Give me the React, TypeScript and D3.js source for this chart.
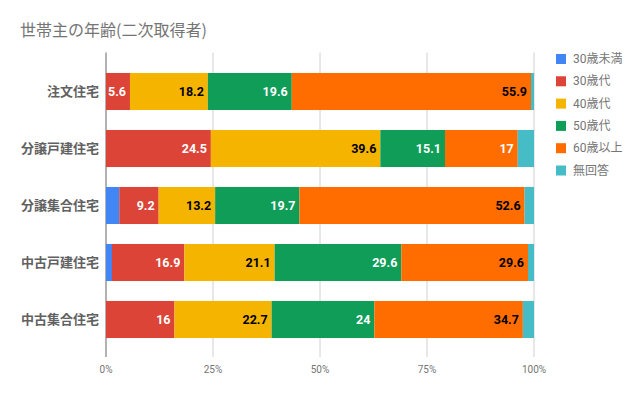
import React from 'react';
import * as d3 from 'd3';

// categories (top to bottom)
const categories = ['注文住宅', '分譲戸建住宅', '分譲集合住宅', '中古戸建住宅', '中古集合住宅'];

// series names in stack order
const seriesNames = ['30歳未満', '30歳代', '40歳代', '50歳代', '60歳以上', '無回答'];

// values per series (%), one per category
const under30 = [0, 0, 3.1, 1.4, 0];
const age30s = [5.6, 24.5, 9.2, 16.9, 16];
const age40s = [18.2, 39.6, 13.2, 21.1, 22.7];
const age50s = [19.6, 15.1, 19.7, 29.6, 24];
const age60plus = [55.9, 17, 52.6, 29.6, 34.7];
const noAnswer = [0.7, 3.8, 2.2, 1.4, 2.6];

// which series get a data label
const labelled = [false, true, true, true, true, false];

const xTicks = [0, 0.25, 0.5, 0.75, 1];

const colors = ['#4285F4', '#DB4437', '#F4B400', '#0F9D58', '#FF6D00', '#46BDC6'];

const W = 640;
const H = 395;

export default function App() {
  const seriesValues = [under30, age30s, age40s, age50s, age60plus, noAnswer];

  const rows = categories.map((cat, i) => {
    const r: Record<string, number | string> = { cat };
    seriesNames.forEach((s, j) => (r[s] = seriesValues[j][i]));
    return r;
  });

  const stack = d3
    .stack<Record<string, number | string>>()
    .keys(seriesNames)
    .value((d, k) => d[k] as number)
    .offset(d3.stackOffsetExpand);
  const stacked = stack(rows);

  const x = d3.scaleLinear().domain([0, 1]).range([106, 534]);
  const y = d3
    .scaleBand<string>()
    .domain(categories)
    .range([63, 348])
    .paddingInner(0.35)
    .paddingOuter(0.175);

  const fmt = d3.format('.0%');

  // label colour: dark text on yellow/orange, white elsewhere (narrow orange gets white)
  const labelColor = (si: number, width: number) => {
    if (si === 2) return '#000';
    if (si === 4) return width > 0.2 ? '#000' : '#fff';
    return '#fff';
  };

  return (
    <svg width={W} height={H} style={{ position: 'absolute', left: 0, top: 0, fontFamily: 'Roboto, "Noto Sans CJK JP", sans-serif' }}>
      <rect width={W} height={H} fill="#fff" />
      <text x={20} y={36} fontSize={16} fill="#757575" fontFamily='"Noto Sans CJK JP", sans-serif'>
        世帯主の年齢(二次取得者)
      </text>

      {/* gridlines */}
      {xTicks.map((t) => (
        <line key={t} x1={x(t)} x2={x(t)} y1={52.5} y2={357} stroke={t === 0 ? '#999' : '#d0d0d0'} strokeWidth={t === 0 ? 1.5 : 1} />
      ))}
      {xTicks.map((t) => (
        <text key={'l' + t} x={x(t)} y={373} fontSize={10} fill="#757575" textAnchor="middle">
          {fmt(t)}
        </text>
      ))}

      {/* bars */}
      {stacked.map((s, si) => (
        <g key={s.key}>
          {s.map((d, ci) => {
            const x0 = x(d[0]);
            const x1 = x(d[1]);
            if (x1 - x0 <= 0) return null;
            return (
              <rect key={ci} x={x0} y={y(categories[ci])} width={x1 - x0} height={y.bandwidth()} fill={colors[si]} />
            );
          })}
        </g>
      ))}

      {/* data labels */}
      {stacked.map((s, si) =>
        labelled[si]
          ? s.map((d, ci) => {
              const v = seriesValues[si][ci];
              if (!v) return null;
              return (
                <text
                  key={s.key + ci}
                  x={x(d[1]) - 4}
                  y={(y(categories[ci]) as number) + y.bandwidth() / 2 + 4.5}
                  fontSize={12.5}
                  fontWeight="bold"
                  textAnchor="end"
                  fill={labelColor(si, d[1] - d[0])}
                >
                  {v}
                </text>
              );
            })
          : null
      )}

      {/* category labels */}
      {categories.map((c) => (
        <text
          key={c}
          x={99}
          y={(y(c) as number) + y.bandwidth() / 2 + 4.5}
          fontSize={13}
          fontWeight="bold"
          fill="#616161"
          textAnchor="end"
          fontFamily='"Noto Sans CJK JP", sans-serif'
        >
          {c}
        </text>
      ))}

      {/* legend */}
      {seriesNames.map((s, i) => {
        const cy = 59 + i * 22.3;
        return (
          <g key={s}>
            <rect x={556} y={cy - 5} width={10} height={10} fill={colors[i]} />
            <text x={573} y={cy + 4} fontSize={12} fill="#757575" fontFamily='Roboto, "Noto Sans CJK JP", sans-serif'>
              {s}
            </text>
          </g>
        );
      })}
    </svg>
  );
}
